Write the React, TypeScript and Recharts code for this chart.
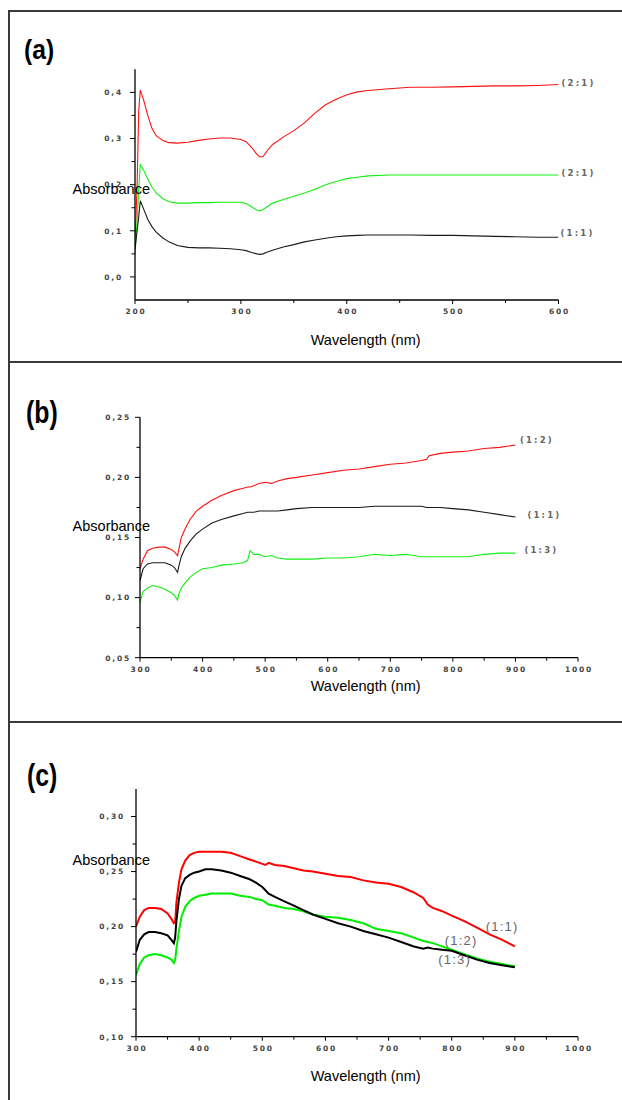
import React from 'react';
import { LineChart, Line, XAxis, YAxis, ReferenceDot } from 'recharts';

// ---- panel (a) ----
const wavelengthA = [200, 202, 203.5, 205, 208, 212, 216, 220, 226, 232, 240, 250, 260, 270, 280, 290, 300, 305, 310, 315, 318, 321, 325, 330, 340, 350, 360, 370, 380, 390, 400, 410, 420, 440, 460, 480, 500, 520, 540, 560, 580, 600];
const redA = [0.07, 0.2, 0.36, 0.405, 0.385, 0.35, 0.322, 0.306, 0.296, 0.291, 0.29, 0.292, 0.296, 0.299, 0.301, 0.301, 0.298, 0.293, 0.281, 0.266, 0.26, 0.261, 0.274, 0.287, 0.303, 0.317, 0.334, 0.355, 0.373, 0.385, 0.395, 0.401, 0.404, 0.408, 0.411, 0.411, 0.412, 0.413, 0.414, 0.414, 0.415, 0.417];
const greenA = [0.05, 0.12, 0.19, 0.243, 0.232, 0.212, 0.195, 0.182, 0.17, 0.163, 0.16, 0.16, 0.161, 0.161, 0.162, 0.162, 0.162, 0.159, 0.152, 0.145, 0.143, 0.146, 0.152, 0.16, 0.168, 0.175, 0.182, 0.19, 0.2, 0.207, 0.213, 0.216, 0.219, 0.221, 0.221, 0.221, 0.221, 0.221, 0.221, 0.221, 0.221, 0.221];
const blackA = [0.06, 0.1, 0.13, 0.165, 0.148, 0.125, 0.109, 0.097, 0.085, 0.076, 0.068, 0.064, 0.063, 0.063, 0.062, 0.061, 0.059, 0.057, 0.053, 0.05, 0.049, 0.05, 0.054, 0.058, 0.065, 0.07, 0.076, 0.08, 0.084, 0.087, 0.089, 0.09, 0.091, 0.091, 0.091, 0.09, 0.09, 0.089, 0.088, 0.087, 0.086, 0.086];
const labelsA = ['(2:1)', '(2:1)', '(1:1)'];
const xMajorA = [200, 300, 400, 500, 600];
const xMinorA = [250, 350, 450, 550];
const yMajorA = [0, 0.1, 0.2, 0.3, 0.4];
const yMinorA = [0.05, 0.15, 0.25, 0.35];

// ---- panel (b) ----
const wavelengthB = [300, 305, 312, 320, 330, 340, 350, 355, 360, 362, 366, 372, 380, 390, 400, 415, 430, 450, 465, 472, 476, 482, 490, 500, 510, 520, 535, 550, 575, 600, 625, 650, 675, 700, 725, 750, 758, 762, 780, 800, 825, 850, 875, 900];
const redB = [0.124, 0.132, 0.139, 0.141, 0.142, 0.142, 0.14, 0.138, 0.135, 0.14, 0.15, 0.157, 0.165, 0.172, 0.176, 0.181, 0.185, 0.189, 0.191, 0.192, 0.192, 0.193, 0.195, 0.196, 0.195, 0.197, 0.199, 0.2, 0.202, 0.204, 0.206, 0.207, 0.209, 0.211, 0.212, 0.214, 0.215, 0.218, 0.22, 0.221, 0.222, 0.224, 0.225, 0.227];
const blackB = [0.114, 0.124, 0.128, 0.129, 0.129, 0.129, 0.127, 0.125, 0.121, 0.126, 0.134, 0.141, 0.147, 0.153, 0.157, 0.162, 0.165, 0.168, 0.17, 0.171, 0.171, 0.171, 0.172, 0.172, 0.172, 0.172, 0.173, 0.174, 0.175, 0.175, 0.175, 0.175, 0.176, 0.176, 0.176, 0.176, 0.175, 0.175, 0.175, 0.174, 0.173, 0.171, 0.169, 0.167];
const greenB = [0.096, 0.105, 0.108, 0.11, 0.109, 0.107, 0.104, 0.102, 0.098, 0.103, 0.108, 0.112, 0.117, 0.121, 0.124, 0.125, 0.127, 0.128, 0.129, 0.131, 0.139, 0.136, 0.136, 0.134, 0.135, 0.133, 0.132, 0.132, 0.132, 0.133, 0.133, 0.134, 0.136, 0.135, 0.136, 0.134, 0.134, 0.134, 0.134, 0.134, 0.134, 0.136, 0.137, 0.137];
const labelsB = ['(1:2)', '(1:1)', '(1:3)'];
const xMajorBC = [300, 400, 500, 600, 700, 800, 900, 1000];
const xMinorBC = [350, 450, 550, 650, 750, 850, 950];
const yMajorB = [0.05, 0.1, 0.15, 0.2, 0.25];
const yMinorB = [0.075, 0.125, 0.175, 0.225];

// ---- panel (c) ----
const wavelengthC = [300, 306, 313, 320, 330, 340, 350, 356, 360, 362, 364, 368, 372, 378, 385, 392, 400, 410, 420, 435, 450, 465, 480, 490, 500, 505, 510, 520, 535, 550, 565, 580, 600, 620, 640, 660, 680, 700, 720, 740, 755, 762, 770, 785, 800, 820, 840, 860, 880, 900];
const redC = [0.2, 0.209, 0.215, 0.217, 0.217, 0.216, 0.212, 0.207, 0.203, 0.204, 0.222, 0.24, 0.252, 0.26, 0.265, 0.267, 0.268, 0.268, 0.268, 0.268, 0.267, 0.264, 0.261, 0.259, 0.257, 0.256, 0.258, 0.256, 0.255, 0.253, 0.251, 0.25, 0.248, 0.246, 0.245, 0.242, 0.24, 0.239, 0.236, 0.231, 0.226, 0.22, 0.217, 0.214, 0.21, 0.205, 0.199, 0.193, 0.188, 0.182];
const blackC = [0.177, 0.188, 0.193, 0.195, 0.195, 0.194, 0.192, 0.188, 0.185, 0.19, 0.205, 0.225, 0.237, 0.244, 0.247, 0.249, 0.25, 0.252, 0.252, 0.251, 0.249, 0.246, 0.243, 0.24, 0.236, 0.233, 0.23, 0.227, 0.223, 0.219, 0.215, 0.211, 0.207, 0.203, 0.2, 0.196, 0.193, 0.19, 0.186, 0.182, 0.18, 0.181, 0.18, 0.179, 0.178, 0.174, 0.17, 0.167, 0.165, 0.163];
const greenC = [0.156, 0.166, 0.172, 0.174, 0.175, 0.174, 0.172, 0.17, 0.167, 0.17, 0.18, 0.196, 0.209, 0.218, 0.223, 0.226, 0.228, 0.229, 0.23, 0.23, 0.23, 0.228, 0.227, 0.225, 0.224, 0.222, 0.22, 0.219, 0.217, 0.216, 0.214, 0.211, 0.209, 0.208, 0.206, 0.203, 0.198, 0.196, 0.194, 0.19, 0.187, 0.186, 0.185, 0.182, 0.179, 0.175, 0.171, 0.168, 0.166, 0.164];
const labelsC = ['(1:1)', '(1:2)', '(1:3)'];
const yMajorC = [0.1, 0.15, 0.2, 0.25, 0.3];
const yMinorC = [0.125, 0.175, 0.225, 0.275];

const RED = '#ff1010';
const GREEN = '#10f010';
const BLACK = '#1a1a1a';
const FRAME = '#3a3a3a';

const tickFont = { fontFamily: 'DejaVu Sans', fontSize: 7.5, fontWeight: 700, letterSpacing: 1.8, fill: '#444' };
const smallLabel = { fontFamily: 'DejaVu Sans', fontSize: 8.5, fontWeight: 700, letterSpacing: 2.2, fill: '#666' };
const bigLabel = { fontFamily: 'Liberation Sans', fontSize: 13, letterSpacing: 1.2, fill: '#666' };

type Series = { key: string; values: number[]; color: string; width: number; label: string; dx: number; dy: number; labelStyle: any };

type PanelCfg = {
  top: number;
  height: number;
  plot: { left: number; right: number; top: number; bottom: number };
  wavelengths: number[];
  series: Series[];
  xDomain: [number, number];
  xMajor: number[];
  xMinor: number[];
  yDomain: [number, number];
  yMajor: number[];
  yMinor: number[];
  decimals: number;
  yLabelGap: number;
};

const has = (list: number[], v: number) => list.some((m) => Math.abs(m - v) < 1e-9);

function YTick(props: any) {
  const { x, y, payload, majors, decimals, gap } = props;
  const major = has(majors, payload.value);
  return (
    <g>
      <line x1={x} x2={x - (major ? 5 : 3.5)} y1={y} y2={y} stroke="#000" strokeWidth={1} />
      {major && (
        <text x={x - gap + 2} y={y + 2.8} textAnchor="end" {...tickFont}>
          {payload.value.toFixed(decimals).replace('.', ',')}
        </text>
      )}
    </g>
  );
}

function XTick(props: any) {
  const { x, y, payload, majors } = props;
  const major = has(majors, payload.value);
  return (
    <g>
      <line x1={x} x2={x} y1={y} y2={y + (major ? 4 : 3)} stroke="#000" strokeWidth={1} />
      {major && (
        <text x={x + 1} y={y + 14} textAnchor="middle" {...tickFont}>
          {String(payload.value)}
        </text>
      )}
    </g>
  );
}

function Panel({ cfg }: { cfg: PanelCfg }) {
  const rows = cfg.wavelengths.map((w, i) => {
    const row: any = { w };
    cfg.series.forEach((s) => {
      row[s.key] = s.values[i];
    });
    return row;
  });
  const last = cfg.wavelengths.length - 1;
  const margin = {
    top: cfg.plot.top - cfg.top,
    left: cfg.plot.left - 40,
    right: 622 - cfg.plot.right,
    bottom: cfg.top + cfg.height - cfg.plot.bottom - 30,
  };
  return (
    <div style={{ position: 'absolute', left: 0, top: cfg.top, width: 622, height: cfg.height }}>
      <LineChart width={622} height={cfg.height} data={rows} margin={margin}>
        <XAxis
          dataKey="w"
          type="number"
          domain={cfg.xDomain}
          allowDataOverflow
          ticks={[...cfg.xMajor, ...cfg.xMinor].sort((a, b) => a - b)}
          interval={0}
          height={30}
          tickSize={0}
          tickMargin={0}
          tickLine={false}
          axisLine={{ stroke: '#000', strokeWidth: 1.3 }}
          tick={(p: any) => <XTick {...p} majors={cfg.xMajor} />}
        />
        <YAxis
          type="number"
          domain={cfg.yDomain}
          allowDataOverflow
          ticks={[...cfg.yMajor, ...cfg.yMinor].sort((a, b) => a - b)}
          interval={0}
          width={40}
          tickSize={0}
          tickMargin={0}
          tickLine={false}
          axisLine={{ stroke: '#000', strokeWidth: 1.3 }}
          tick={(p: any) => <YTick {...p} majors={cfg.yMajor} decimals={cfg.decimals} gap={cfg.yLabelGap} />}
        />
        {cfg.series.map((s) => (
          <Line
            key={s.key}
            dataKey={s.key}
            type="linear"
            stroke={s.color}
            strokeWidth={s.width}
            dot={false}
            activeDot={false}
            isAnimationActive={false}
          />
        ))}
        {cfg.series.map((s) => (
          <ReferenceDot
            key={s.key + '-label'}
            x={cfg.wavelengths[last]}
            y={s.values[last]}
            r={0}
            shape={(p: any) => (
              <text x={p.cx + s.dx} y={p.cy + s.dy} {...s.labelStyle}>
                {s.label}
              </text>
            )}
          />
        ))}
      </LineChart>
    </div>
  );
}

const panelA: PanelCfg = {
  top: 12,
  height: 348,
  plot: { left: 135, right: 558.5, top: 69.3, bottom: 300 },
  wavelengths: wavelengthA,
  series: [
    { key: 'red', values: redA, color: RED, width: 1.1, label: labelsA[0], dx: 3, dy: 1.5, labelStyle: smallLabel },
    { key: 'green', values: greenA, color: GREEN, width: 1.1, label: labelsA[1], dx: 3, dy: 1, labelStyle: smallLabel },
    { key: 'black', values: blackA, color: BLACK, width: 1.1, label: labelsA[2], dx: 2, dy: -1, labelStyle: smallLabel },
  ],
  xDomain: [200, 600],
  xMajor: xMajorA,
  xMinor: xMinorA,
  yDomain: [-0.05, 0.45],
  yMajor: yMajorA,
  yMinor: yMinorA,
  decimals: 1,
  yLabelGap: 14,
};

const panelB: PanelCfg = {
  top: 364,
  height: 356,
  plot: { left: 140, right: 578, top: 417.3, bottom: 657.7 },
  wavelengths: wavelengthB,
  series: [
    { key: 'red', values: redB, color: RED, width: 1.1, label: labelsB[0], dx: 4.5, dy: -2, labelStyle: smallLabel },
    { key: 'black', values: blackB, color: BLACK, width: 1.1, label: labelsB[1], dx: 12, dy: 1, labelStyle: smallLabel },
    { key: 'green', values: greenB, color: GREEN, width: 1.1, label: labelsB[2], dx: 9, dy: 0, labelStyle: smallLabel },
  ],
  xDomain: [300, 1000],
  xMajor: xMajorBC,
  xMinor: xMinorBC,
  yDomain: [0.05, 0.25],
  yMajor: yMajorB,
  yMinor: yMinorB,
  decimals: 2,
  yLabelGap: 11,
};

const panelC: PanelCfg = {
  top: 724,
  height: 376,
  plot: { left: 136, right: 578, top: 789, bottom: 1036.7 },
  wavelengths: wavelengthC,
  series: [
    { key: 'red', values: redC, color: '#ff0000', width: 2, label: labelsC[0], dx: -29, dy: -15.5, labelStyle: bigLabel },
    { key: 'green', values: greenC, color: '#00ee00', width: 2, label: labelsC[1], dx: -70, dy: -21, labelStyle: bigLabel },
    { key: 'black', values: blackC, color: '#000', width: 2, label: labelsC[2], dx: -76.5, dy: -3.5, labelStyle: bigLabel },
  ],
  xDomain: [300, 1000],
  xMajor: xMajorBC,
  xMinor: xMinorBC,
  yDomain: [0.1, 0.325],
  yMajor: yMajorC,
  yMinor: yMinorC,
  decimals: 2,
  yLabelGap: 13,
};

const sans = { fontFamily: 'Liberation Sans, Arial, sans-serif', color: '#000', lineHeight: 1, whiteSpace: 'nowrap' as const };

function Text({ left, baseline, size, bold, scaleX, children }: any) {
  // line-height 1: baseline sits ~0.8465em below the top
  return (
    <span
      style={{
        ...sans,
        position: 'absolute',
        left,
        top: baseline - 0.8465 * size,
        fontSize: size,
        fontWeight: bold ? 700 : 400,
        transform: scaleX ? `scaleX(${scaleX})` : undefined,
        transformOrigin: 'left top',
      }}
    >
      {children}
    </span>
  );
}

export default function App() {
  return (
    <div style={{ position: 'fixed', left: 0, top: 0, width: 622, height: 1100, overflow: 'hidden', background: '#fff' }}>
      {/* frame */}
      <div style={{ position: 'absolute', left: 8, top: 10, width: 614, height: 2, background: FRAME }} />
      <div style={{ position: 'absolute', left: 8, top: 10, width: 2, height: 1090, background: FRAME }} />
      <div style={{ position: 'absolute', left: 8, top: 361, width: 614, height: 2, background: FRAME }} />
      <div style={{ position: 'absolute', left: 8, top: 721, width: 614, height: 2, background: FRAME }} />

      <Panel cfg={panelA} />
      <Panel cfg={panelB} />
      <Panel cfg={panelC} />

      <Text left={23.5} baseline={60} size={28} bold scaleX={0.88}>(a)</Text>
      <Text left={25.5} baseline={423} size={31} bold scaleX={0.8}>(b)</Text>
      <Text left={27} baseline={786.5} size={31} bold scaleX={0.8}>(c)</Text>

      <Text left={72.6} baseline={194} size={14.5}>Absorbance</Text>
      <Text left={72.6} baseline={531} size={14.5}>Absorbance</Text>
      <Text left={72.6} baseline={865} size={14.5}>Absorbance</Text>

      <Text left={310.7} baseline={345.5} size={14.5}>Wavelength (nm)</Text>
      <Text left={310.7} baseline={691.3} size={14.5}>Wavelength (nm)</Text>
      <Text left={310.7} baseline={1080.8} size={14.5}>Wavelength (nm)</Text>
    </div>
  );
}
